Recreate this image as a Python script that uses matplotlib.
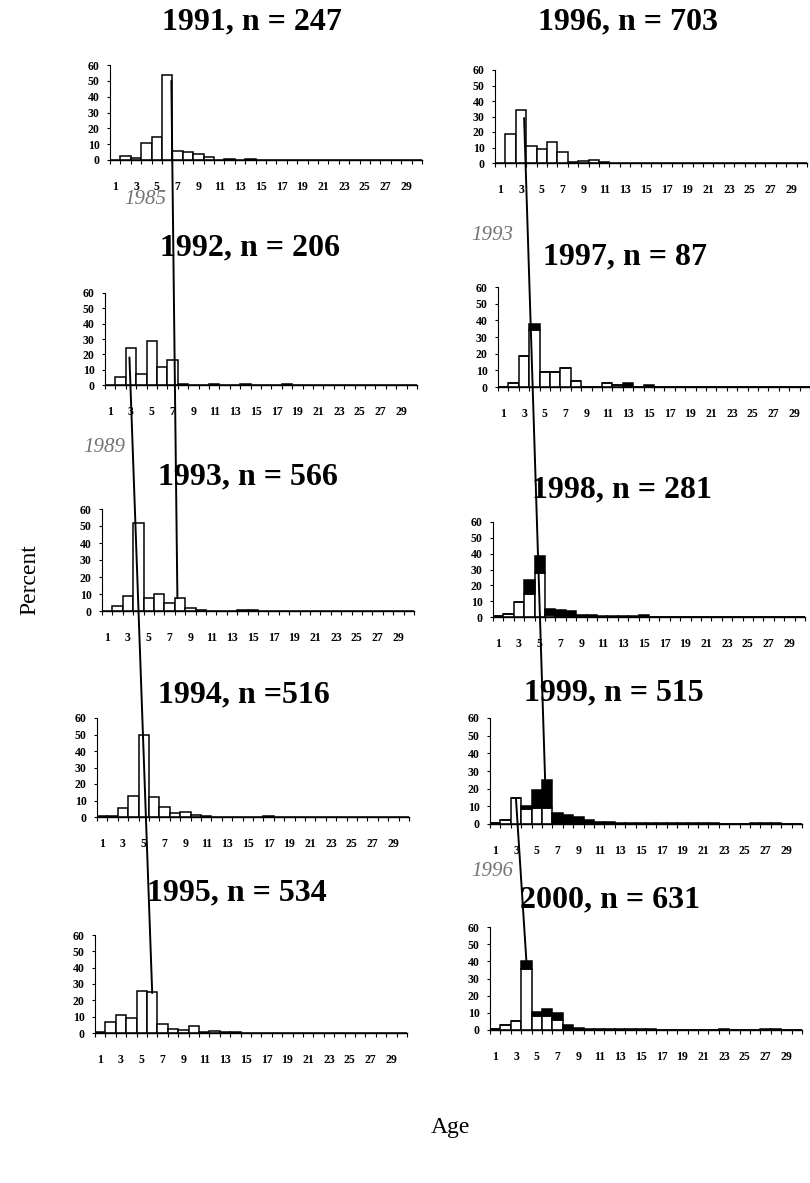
import matplotlib

matplotlib.use("Agg")
import matplotlib.pyplot as plt  # noqa: E402
import numpy as np  # noqa: E402
from matplotlib.patches import ConnectionPatch  # noqa: E402

plt.rcParams["font.family"] = ["Liberation Serif", "DejaVu Serif"]

# ---- data (percent of catch by age) ----
ages = np.arange(1, 31)
tick_ages = list(range(1, 30, 2))
y_ticks = [0, 10, 20, 30, 40, 50, 60]

titles = {
    1991: "1991, n = 247",
    1992: "1992, n = 206",
    1993: "1993, n = 566",
    1994: "1994, n =516",
    1995: "1995, n = 534",
    1996: "1996, n = 703",
    1997: "1997, n = 87",
    1998: "1998, n = 281",
    1999: "1999, n = 515",
    2000: "2000, n = 631",
}

white_1991 = [0.3, 2.5, 1.0, 10.5, 14.5, 53.5, 5.5, 5.0, 4.0, 1.7, 0.3, 0.8, 0.3, 0.8, 0.2,
              0, 0, 0, 0, 0, 0.2, 0.2, 0, 0, 0.2, 0.2, 0.3, 0, 0, 0]
white_1992 = [0, 5.5, 24, 7, 29, 11.5, 16.5, 0.6, 0.3, 0.3, 0.6, 0.2, 0, 0.5, 0.2,
              0, 0.2, 0.6, 0.2, 0, 0, 0, 0, 0, 0, 0, 0, 0, 0, 0]
white_1993 = [0, 3, 9, 52, 7.5, 10, 5, 7.5, 1.5, 0.8, 0.2, 0, 0.2, 0.3, 0.5,
              0.2, 0, 0, 0, 0, 0, 0, 0, 0, 0, 0, 0, 0, 0, 0]
white_1994 = [0.5, 0.7, 5.5, 13, 50, 12, 6, 2.5, 3, 1.5, 0.5, 0.3, 0.3, 0.3, 0.3,
              0.3, 0.5, 0, 0.2, 0.2, 0, 0, 0, 0, 0, 0, 0, 0, 0, 0]
white_1995 = [0.5, 7, 11, 9, 26, 25, 5.5, 2.5, 2, 4.5, 0.5, 1, 0.5, 0.5, 0.3,
              0.2, 0.2, 0.2, 0.2, 0.2, 0.2, 0.2, 0.2, 0.2, 0.2, 0.2, 0.2, 0.2, 0.2, 0]
white_1996 = [0.3, 18.5, 34, 11, 9, 13.5, 7, 0.5, 1, 1.7, 0.5, 0.3, 0.3, 0.2, 0.3,
              0, 0, 0, 0, 0, 0, 0.1, 0.2, 0, 0, 0.1, 0.2, 0, 0, 0]
white_1997 = [0, 2.3, 18.4, 34.5, 9.2, 9.2, 11.5, 3.4, 0, 0, 2.3, 1.15, 0, 0, 0,
              0, 0, 0, 0, 0, 0, 0, 0, 0, 0, 0, 0, 0, 0, 0]
black_1997 = [0, 0, 0, 3.4, 0, 0, 0, 0, 0, 0, 0, 0, 2.3, 0, 1.15,
              0, 0, 0, 0, 0, 0, 0, 0, 0, 0, 0, 0, 0, 0, 0]
white_1998 = [0.4, 2, 9.5, 14.5, 27.5, 1.5, 0.5, 0, 0, 0, 0, 0, 0, 0, 0,
              0, 0, 0, 0, 0, 0, 0, 0, 0, 0, 0, 0, 0, 0, 0]
black_1998 = [0, 0, 0, 9, 11, 3.5, 4, 3.5, 1, 1.5, 0.8, 0.5, 0.5, 0.5, 1,
              0.3, 0.3, 0.3, 0.2, 0.2, 0.2, 0, 0, 0, 0, 0, 0, 0, 0, 0]
white_1999 = [0.3, 2.2, 14.5, 8.5, 9, 9, 0.5, 0, 0, 0, 0, 0, 0, 0, 0,
              0, 0, 0, 0, 0, 0, 0, 0, 0, 0, 0, 0, 0, 0, 0]
black_1999 = [0, 0, 0.5, 1.5, 10, 16, 5.5, 5, 4, 2, 1.2, 1, 0.8, 0.5, 0.5,
              0.3, 0.5, 0.5, 0.5, 0.3, 0.3, 0.3, 0.2, 0.2, 0.2, 0.3, 0.7, 0.5, 0.2, 0]
white_2000 = [0.5, 3, 5, 35.5, 8, 8, 6, 0.5, 0, 0, 0, 0, 0, 0, 0,
              0, 0, 0, 0, 0, 0, 0, 0, 0, 0, 0, 0, 0, 0, 0]
black_2000 = [0, 0, 0, 4.5, 2.5, 4, 4, 2.5, 1.2, 0.8, 0.6, 0.5, 0.3, 0.3, 0.3,
              0.3, 0.2, 0.2, 0.2, 0.2, 0.2, 0.2, 0.3, 0.2, 0.2, 0.2, 0.3, 0.5, 0.2, 0]

white_pct = {1991: white_1991, 1992: white_1992, 1993: white_1993, 1994: white_1994,
             1995: white_1995, 1996: white_1996, 1997: white_1997, 1998: white_1998,
             1999: white_1999, 2000: white_2000}
black_pct = {1997: black_1997, 1998: black_1998, 1999: black_1999, 2000: black_2000}

# cohort lines: (label, start year, (age, pct), end year, (age, pct))
cohorts = [
    ("1985", 1991, (6.4, 50), 1993, (7.75, 7.5)),
    ("1989", 1992, (2.85, 18), 1995, (6.0, 24.5)),
    ("1993", 1996, (3.3, 29), 1999, (5.8, 25)),
    ("1996", 1999, (3.0, 14), 2000, (4.0, 40)),
]

# ---- layout in pixels of the 810 x 1183 image ----
W, H = 810, 1183
AX_W = 312
# year: (left, y of 60, y of 0)
boxes = {
    1991: (110, 65, 160), 1992: (105, 293, 385), 1993: (102, 509, 611),
    1994: (97, 718, 817), 1995: (95, 935, 1033),
    1996: (495, 70, 163), 1997: (498, 287, 387), 1998: (493, 522, 617),
    1999: (490, 718, 824), 2000: (490, 927, 1030),
}
title_xy = {
    1991: (252, 22), 1992: (250, 248), 1993: (248, 477), 1994: (244, 695), 1995: (237, 893),
    1996: (628, 22), 1997: (625, 257), 1998: (622, 490), 1999: (614, 693), 2000: (610, 900),
}
cohort_label_xy = {"1985": (166, 200), "1989": (125, 447), "1993": (513, 235), "1996": (513, 872)}

fig = plt.figure(figsize=(W / 100, H / 100), dpi=100)
axes = {}

for year, (left, top, bottom) in boxes.items():
    ax = fig.add_axes([left / W, 1 - bottom / H, AX_W / W, (bottom - top) / H])
    axes[year] = ax
    white = np.array(white_pct[year])
    ax.bar(ages, white, width=1.0, color="white", edgecolor="black", linewidth=1.1, zorder=2)
    if year in black_pct:
        ax.bar(ages, black_pct[year], bottom=white, width=1.0, color="black",
               edgecolor="black", linewidth=1.1, zorder=2)
    ax.set_xlim(0.5, 30.5)
    ax.set_ylim(0, 60)
    for side in ("top", "right"):
        ax.spines[side].set_visible(False)
    ax.spines["left"].set_linewidth(0.8)
    ax.spines["bottom"].set_linewidth(1.0)
    ax.set_yticks(y_ticks)
    ax.set_xticks(tick_ages)
    ax.set_xticks(np.arange(0.5, 31, 1), minor=True)
    ax.tick_params(axis="x", which="major", length=0, pad=15, labelsize=8.5)
    ax.tick_params(axis="x", which="minor", length=3, width=0.8, direction="out")
    ax.tick_params(axis="y", length=2.5, width=0.8, pad=5, labelsize=8.5)
    for lab in ax.get_xticklabels() + ax.get_yticklabels():
        lab.set_fontweight("bold")
    ax.patch.set_alpha(0)

    tx, ty = title_xy[year]
    fig.text(tx / W, 1 - ty / H, titles[year], ha="center", va="center",
             fontsize=23, fontweight="bold")

for label, y0, p0, y1, p1 in cohorts:
    con = ConnectionPatch(xyA=p0, xyB=p1, coordsA="data", coordsB="data",
                          axesA=axes[y0], axesB=axes[y1], color="black", linewidth=1.4,
                          zorder=5)
    fig.add_artist(con)
    lx, ly = cohort_label_xy[label]
    fig.text(lx / W, 1 - ly / H, label, ha="right", va="center", fontsize=15,
             style="italic", color="0.45")

fig.text(30 / W, 1 - 580 / H, "Percent", rotation=90, ha="center", va="center", fontsize=17)
fig.text(450 / W, 1 - 1128 / H, "Age", ha="center", va="center", fontsize=17)

fig.savefig("out.png", dpi=100)
plt.close(fig)
